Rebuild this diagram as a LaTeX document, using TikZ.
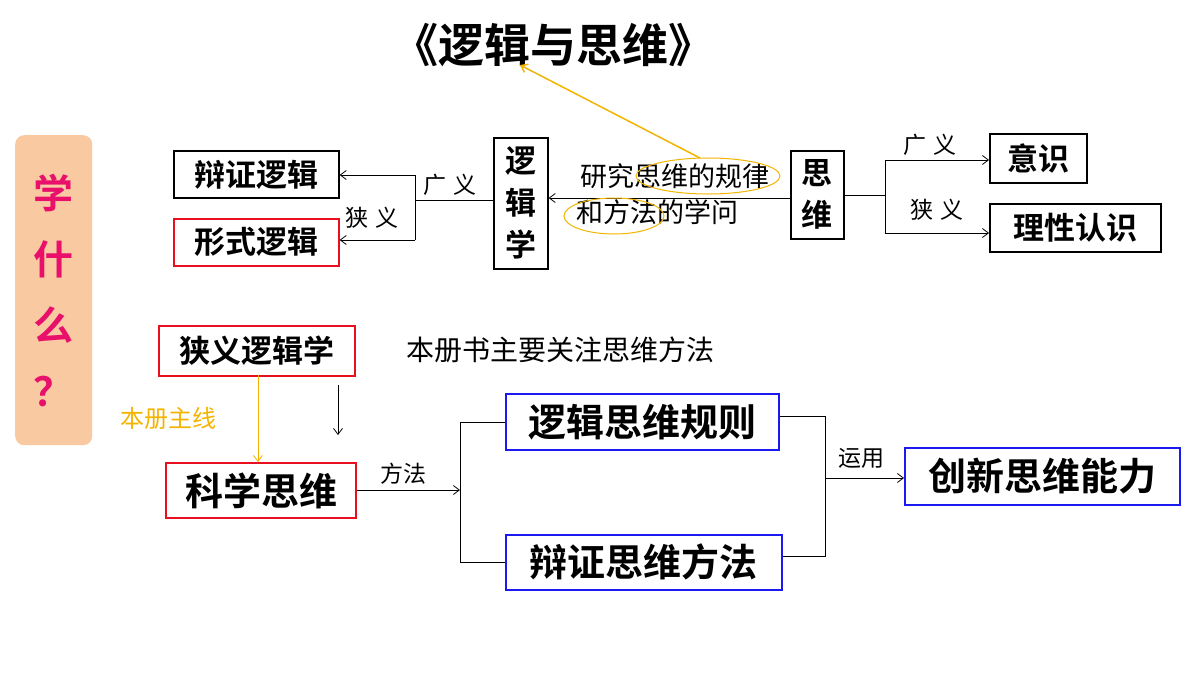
\documentclass[tikz,border=0pt]{standalone}
\usepackage{fontspec}
\newfontfamily\cjk{Noto Sans CJK SC}
\newfontfamily\cjkb{Noto Sans CJK SC Bold}
\usetikzlibrary{arrows.meta}
\definecolor{myred}{HTML}{E8101E}
\definecolor{myblue}{HTML}{1A1AF0}
\definecolor{myor}{HTML}{F2B400}
\definecolor{peach}{HTML}{F9C9A2}
\definecolor{mag}{HTML}{E8106A}
\begin{document}
\begin{tikzpicture}[x=1pt,y=-1pt,
 box/.style={draw,line width=1.6pt,font=\cjkb\fontsize{31}{33}\selectfont,inner sep=0pt,anchor=north west},
 big/.style={font=\cjkb\fontsize{38}{40}\selectfont},
 lab/.style={font=\cjk\fontsize{23}{24}\selectfont},
 arr/.style={-{Straight Barb[length=6pt,width=9pt]},line width=0.8pt},
 ln/.style={line width=0.8pt}]
\useasboundingbox (0,0) rectangle (1200,675);
\node[font=\cjkb\fontsize{46}{48}\selectfont] (title) at (553,45) {《逻辑与思维》};
\node[fill=peach,rounded corners=9pt,minimum width=77pt,minimum height=310pt,anchor=north west,inner sep=0pt] (side) at (15,135) {};
\node[font=\cjkb\fontsize{40}{66}\selectfont,text=mag,align=center] (sidet) at (53,290) {学\\什\\么\\？};
% top
\node[box,minimum width=165pt,minimum height=47pt] (bz) at (173,150) {辩证逻辑};
\node[box,draw=myred,minimum width=165pt,minimum height=47pt] (xs) at (173,218) {形式逻辑};
\node[box,minimum width=54pt,minimum height=131pt,align=center,font=\cjkb\fontsize{31}{42}\selectfont] (ljx) at (493,137) {逻\\辑\\学};
\node[box,minimum width=53pt,minimum height=88pt,align=center,font=\cjkb\fontsize{31}{42}\selectfont] (sw) at (790,150) {思\\维};
\node[box,minimum width=97pt,minimum height=49pt] (ys) at (989,133) {意识};
\node[box,minimum width=171pt,minimum height=48pt] (lx) at (989,203) {理性认识};
\coordinate (b1) at (415,175); \coordinate (b2) at (415,240);
\draw[ln] (ljx.west|-0,200) -- (415,200);
\draw[ln] (b1) -- (b2);
\draw[arr] (b1) -- (bz.east|-b1);
\draw[arr] (b2) -- (xs.east|-b2);
\node[lab] (gy1) at (450,185) {广\,\,义};
\node[lab] (xy1) at (372,218) {狭\,\,义};
\draw[arr] (sw.west|-0,198) -- (ljx.east|-0,198);
\node[font=\cjk\fontsize{27}{28}\selectfont] (t1) at (675,176) {研究思维的规律};
\node[font=\cjk\fontsize{27}{28}\selectfont] (t2) at (657,212) {和方法的学问};
\draw[myor,line width=1pt] (708,176) ellipse (72pt and 18pt);
\draw[myor,line width=1pt] (614,216) ellipse (50pt and 18pt);
\coordinate (o1) at (700,158);
\draw[arr,myor,line width=1.5pt] (o1) -- (520,65);
\coordinate (c1) at (885,160); \coordinate (c2) at (885,233);
\draw[ln] (sw.east|-0,195) -- (885,195);
\draw[ln] (c1) -- (c2);
\draw[arr] (c1) -- (ys.west|-c1);
\draw[arr] (c2) -- (lx.west|-c2);
\node[lab] (gy2) at (930,145) {广\,\,义};
\node[lab] (xy2) at (937,210) {狭\,\,义};
% bottom
\node[box,draw=myred,minimum width=196pt,minimum height=50pt] (xyl) at (158,325) {狭义逻辑学};
\node[font=\cjk\fontsize{28}{30}\selectfont] (bc) at (560,350) {本册书主要关注思维方法};
\node[box,big,draw=myred,line width=2.4pt,minimum width=190pt,minimum height=55pt] (kx) at (165,462) {科学思维};
\draw[arr,myor] (258,375) -- (kx.north-|258,0);
\node[font=\cjk\fontsize{24}{26}\selectfont,text=myor] (zx) at (168,418) {本册主线};
\coordinate (d1) at (338,385);
\draw[arr] (d1) -- (338,435);
\coordinate (m) at (460,490);
\draw[arr] (kx.east|-m) -- (m);
\node[lab] (ff) at (403,474) {方法};
\node[box,big,draw=myblue,minimum width=273pt,minimum height=56pt] (gz) at (505,393) {逻辑思维规则};
\node[box,big,draw=myblue,minimum width=276pt,minimum height=55pt] (ffa) at (505,534) {辩证思维方法};
\draw[ln] (gz.west|-0,422) -- (460,422) -- (460,562) -- (ffa.west|-0,562);
\draw[ln] (gz.east|-0,416) -- (825,416) -- (825,556) -- (ffa.east|-0,556);
\node[box,big,draw=myblue,minimum width=275pt,minimum height=57pt] (cx) at (904,447) {创新思维能力};
\coordinate (e) at (825,478);
\draw[arr] (e) -- (cx.west|-e);
\node[lab] (yy) at (861,458) {运用};
\end{tikzpicture}
\end{document}
